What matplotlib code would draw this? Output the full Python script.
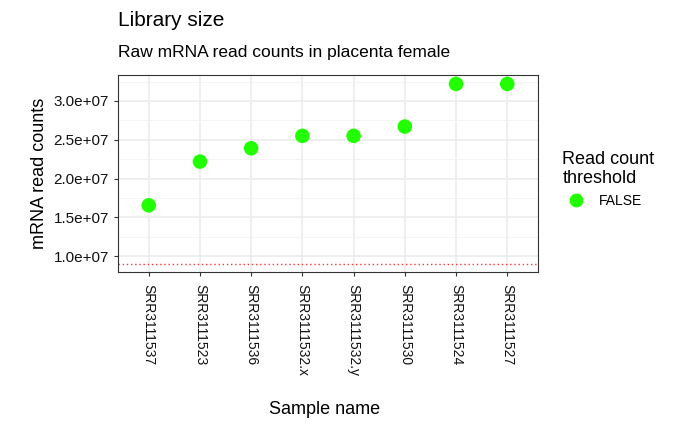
import matplotlib
matplotlib.use("Agg")
import matplotlib.pyplot as plt
from matplotlib.lines import Line2D

plt.rcParams['font.family'] = ['Liberation Sans', 'DejaVu Sans']

samples = ["SRR3111537", "SRR3111523", "SRR3111536", "SRR3111532.x",
           "SRR3111532.y", "SRR3111530", "SRR3111524", "SRR3111527"]
counts = [1.654e7, 2.218e7, 2.39e7, 2.55e7, 2.55e7, 2.67e7, 3.22e7, 3.22e7]
threshold = 9.0e6
yticks = [1.0e7, 1.5e7, 2.0e7, 2.5e7, 3.0e7]
ytick_labels = ["1.0e+07", "1.5e+07", "2.0e+07", "2.5e+07", "3.0e+07"]

fig = plt.figure(figsize=(7, 4.32), dpi=100)
ax = fig.add_axes([118/700, 1-272/432, 420/700, 197/432])
x = list(range(len(samples)))
ax.scatter(x, counts, s=110, color="#22FF00", zorder=3, edgecolors="none")
ax.axhline(threshold, color="#FF3333", linestyle=(0, (1, 2)), linewidth=1)
ax.set_xlim(-0.6, len(samples) - 0.4)
ax.set_ylim(7.94e6, 3.335e7)
ax.set_yticks(yticks)
ax.set_yticklabels(ytick_labels, fontsize=11)
ax.set_yticks([1.25e7, 1.75e7, 2.25e7, 2.75e7, 3.25e7], minor=True)
ax.set_xticks(x)
ax.set_xticklabels(samples, rotation=-90, fontsize=10, ha="right", va="top",
                   rotation_mode="default")
for t in ax.get_xticklabels():
    t.set_horizontalalignment("center")
ax.grid(True, which="major", color="#EBEBEB", linewidth=1.1)
ax.grid(True, which="minor", axis="y", color="#F2F2F2", linewidth=0.6)
ax.tick_params(which="minor", length=0)
ax.tick_params(which="major", color="#333333", length=3, labelcolor="#111111")
ax.tick_params(axis="x", pad=6)
for s in ax.spines.values():
    s.set_color("#333333"); s.set_linewidth(0.8)
ax.set_axisbelow(True)
ax.set_ylabel("mRNA read counts", fontsize=13)
ax.set_xlabel("")
fig.text(325/700, 1-410/432, "Sample name", fontsize=13, ha="center", va="center")
fig.text(118/700, 1-20/432, "Library size", fontsize=15, va="center")
fig.text(118/700, 1-52/432, "Raw mRNA read counts in placenta female", fontsize=12.5, va="center")

h = Line2D([], [], marker="o", linestyle="none", markersize=10,
           markerfacecolor="#22FF00", markeredgecolor="none")
leg = fig.legend([h], ["FALSE"], title="Read count\nthreshold",
                 loc="upper left", bbox_to_anchor=(550/700, 1-138/432),
                 frameon=False, fontsize=10, title_fontsize=13,
                 handletextpad=0.6)
leg._legend_box.align = "left"
fig.savefig("out.png", dpi=100)
